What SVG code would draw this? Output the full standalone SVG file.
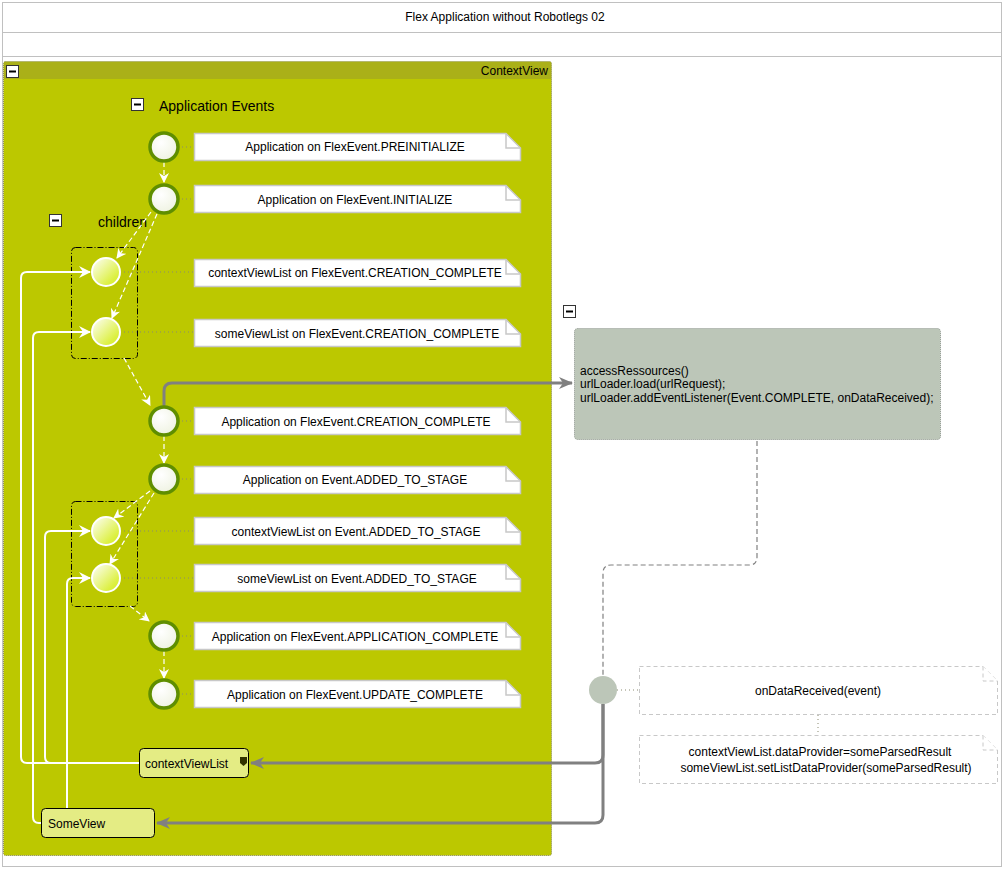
<svg xmlns="http://www.w3.org/2000/svg" width="1005" height="870" viewBox="0 0 1005 870">
<style>
text{font-family:"Liberation Sans",Arial,sans-serif;font-size:12px;fill:#000}
.note{fill:#fff;stroke:#c8c8c8;stroke-width:1.5}
.fold{fill:none;stroke:#c8c8c8;stroke-width:1.5}
.dnote{fill:#fff;stroke:#c8c8c8;stroke-width:1;stroke-dasharray:4,3}
.ev{fill:url(#gEv);stroke:#5f8e00;stroke-width:3.5}
.ch{fill:url(#gCh);stroke:#fff;stroke-width:2}
.dot{stroke:#8a8a70;stroke-width:1;stroke-dasharray:1,3;fill:none}
.wd{stroke:#fff;stroke-width:1.2;stroke-dasharray:5,3;fill:none;marker-end:url(#aw)}
.ws{stroke:#fff;stroke-width:2;fill:none}
.gr{stroke:#808080;stroke-width:3;fill:none}
.grp{fill:none;stroke:#000;stroke-width:1;stroke-dasharray:6,2,1,2}
.tog{fill:#fff;stroke:#333;stroke-width:1}
</style>
<defs>
<radialGradient id="gEv" cx="0.4" cy="0.35" r="0.7"><stop offset="0" stop-color="#ffffff"/><stop offset="1" stop-color="#eef2e0"/></radialGradient>
<linearGradient id="gCh" x1="0" y1="0" x2="1" y2="1"><stop offset="0" stop-color="#ffffff"/><stop offset="0.75" stop-color="#dcf040"/><stop offset="1" stop-color="#d0e820"/></linearGradient>
<marker id="aw" viewBox="0 0 10 10" refX="9" refY="5" markerWidth="10" markerHeight="10" markerUnits="userSpaceOnUse" orient="auto"><path d="M0,0 L10,5 L0,10 L3,5 Z" fill="#fff"/></marker>
<marker id="aws" viewBox="0 0 12 12" refX="11" refY="6" markerWidth="12" markerHeight="12" markerUnits="userSpaceOnUse" orient="auto"><path d="M0,0 L12,6 L0,12 L4,6 Z" fill="#fff"/></marker>
<marker id="ag" viewBox="0 0 14 12" refX="13" refY="6" markerWidth="14" markerHeight="12" markerUnits="userSpaceOnUse" orient="auto"><path d="M0,0 L14,6 L0,12 L4,6 Z" fill="#808080"/></marker>
<g id="toggle"><rect x="0.5" y="0.5" width="12" height="12" class="tog"/><rect x="3" y="5.5" width="7" height="2" fill="#000"/></g>
</defs>
<rect x="0" y="0" width="1005" height="870" fill="#fff"/>
<g id="frame">
<rect x="2.5" y="2.5" width="999" height="864" fill="#fff" stroke="#c0c0c0"/>
<line x1="2.5" y1="32.5" x2="1001.5" y2="32.5" stroke="#c0c0c0"/>
<line x1="2.5" y1="56.5" x2="1001.5" y2="56.5" stroke="#c0c0c0"/>
<text x="505" y="21" text-anchor="middle">Flex Application without Robotlegs 02</text>
</g>
<g id="contextView">
<rect x="3.5" y="61.5" width="548" height="794" rx="2" fill="#bcc800" stroke="#8a8a60" stroke-dasharray="1,1"/>
<rect x="4" y="62" width="547" height="17" fill="#aab018"/>
<use href="#toggle" x="6" y="65"/>
<text x="548" y="75" text-anchor="end">ContextView</text>
<use href="#toggle" x="131" y="98"/>
<text x="159" y="111" style="font-size:14px">Application Events</text>
<use href="#toggle" x="49" y="214"/>
<text x="98" y="227" style="font-size:14px">children</text>
</g>
<g id="groups">
<rect id="group1" x="71.5" y="247.5" width="66" height="111" rx="4" class="grp"/>
<rect id="group2" x="71.5" y="501.5" width="66" height="105" rx="4" class="grp"/>
</g>
<g id="connectors">
<path class="dot" d="M178,147 H194 M178,199 H194 M120,272 H194 M120,332 H194 M178,421 H194 M178,479 H194 M120,531 H194 M120,578 H194 M178,636 H194 M178,694 H194"/>
<path class="dot" d="M617,690 H639 M818,715 V735"/>
<path class="wd" d="M164,162 V182"/>
<path class="wd" d="M151,212 L117,258"/>
<path class="wd" d="M157,214 L112,318"/>
<path class="wd" d="M124,358 L150,405"/>
<path class="wd" d="M164,436 V463"/>
<path class="wd" d="M150,491 L114,518"/>
<path class="wd" d="M154,493 L110,564"/>
<path class="wd" d="M130,606 L149,621"/>
<path class="wd" d="M164,651 V678"/>
<path class="ws" d="M139,763 H27 Q21,763 21,757 V278 Q21,272 27,272 H90" marker-end="url(#aws)"/>
<path class="ws" d="M41,823 H39 Q33,823 33,817 V338 Q33,332 39,332 H90" marker-end="url(#aws)"/>
<path class="ws" d="M139,763 H51 Q45,763 45,757 V537 Q45,531 51,531 H90" marker-end="url(#aws)"/>
<path class="ws" d="M67,808 V584 Q67,578 73,578 H90" marker-end="url(#aws)"/>
<path class="gr" d="M164,407 V391 Q164,383 172,383 H572" marker-end="url(#ag)"/>
<path d="M757,441 V557 Q757,565 749,565 H611 Q603,565 603,573 V676" fill="none" stroke="#808080" stroke-width="1.2" stroke-dasharray="5,3"/>
<path class="gr" d="M603,704 V755 Q603,763 595,763 H251" marker-end="url(#ag)"/>
<path class="gr" d="M603,704 V815 Q603,823 595,823 H157" marker-end="url(#ag)"/>
</g>
<g id="ev1"><circle cx="164" cy="147" r="14" class="ev"/></g>
<g id="ev2"><circle cx="164" cy="199" r="14" class="ev"/></g>
<g id="ch1"><circle cx="106" cy="272" r="14" class="ch"/></g>
<g id="ch2"><circle cx="106" cy="332" r="14" class="ch"/></g>
<g id="ev3"><circle cx="164" cy="421" r="14" class="ev"/></g>
<g id="ev4"><circle cx="164" cy="479" r="14" class="ev"/></g>
<g id="ch3"><circle cx="106" cy="531" r="14" class="ch"/></g>
<g id="ch4"><circle cx="106" cy="578" r="14" class="ch"/></g>
<g id="ev5"><circle cx="164" cy="636" r="14" class="ev"/></g>
<g id="ev6"><circle cx="164" cy="694" r="14" class="ev"/></g>
<g id="n1"><path class="note" d="M194.5,133.5 H506 L520.5,148 V160.5 H194.5 Z"/><path class="fold" d="M506,133.5 V148 H520.5"/><text x="355" y="151" text-anchor="middle">Application on FlexEvent.PREINITIALIZE</text></g>
<g id="n2"><path class="note" d="M194.5,185.5 H506 L520.5,200 V212.5 H194.5 Z"/><path class="fold" d="M506,185.5 V200 H520.5"/><text x="355" y="204" text-anchor="middle">Application on FlexEvent.INITIALIZE</text></g>
<g id="n3"><path class="note" d="M194.5,259.5 H506 L520.5,274 V286.5 H194.5 Z"/><path class="fold" d="M506,259.5 V274 H520.5"/><text x="355" y="277" text-anchor="middle">contextViewList on FlexEvent.CREATION_COMPLETE</text></g>
<g id="n4"><path class="note" d="M194.5,319.5 H506 L520.5,334 V346.5 H194.5 Z"/><path class="fold" d="M506,319.5 V334 H520.5"/><text x="357" y="338" text-anchor="middle">someViewList on FlexEvent.CREATION_COMPLETE</text></g>
<g id="n5"><path class="note" d="M194.5,407.5 H506 L520.5,422 V434.5 H194.5 Z"/><path class="fold" d="M506,407.5 V422 H520.5"/><text x="356" y="426" text-anchor="middle">Application on FlexEvent.CREATION_COMPLETE</text></g>
<g id="n6"><path class="note" d="M194.5,466.5 H506 L520.5,481 V493.5 H194.5 Z"/><path class="fold" d="M506,466.5 V481 H520.5"/><text x="355" y="484" text-anchor="middle">Application on Event.ADDED_TO_STAGE</text></g>
<g id="n7"><path class="note" d="M194.5,517.5 H506 L520.5,532 V544.5 H194.5 Z"/><path class="fold" d="M506,517.5 V532 H520.5"/><text x="356" y="536" text-anchor="middle">contextViewList on Event.ADDED_TO_STAGE</text></g>
<g id="n8"><path class="note" d="M194.5,564.5 H506 L520.5,579 V591.5 H194.5 Z"/><path class="fold" d="M506,564.5 V579 H520.5"/><text x="357" y="583" text-anchor="middle">someViewList on Event.ADDED_TO_STAGE</text></g>
<g id="n9"><path class="note" d="M194.5,622.5 H506 L520.5,637 V649.5 H194.5 Z"/><path class="fold" d="M506,622.5 V637 H520.5"/><text x="355" y="641" text-anchor="middle">Application on FlexEvent.APPLICATION_COMPLETE</text></g>
<g id="n10"><path class="note" d="M194.5,680.5 H506 L520.5,695 V707.5 H194.5 Z"/><path class="fold" d="M506,680.5 V695 H520.5"/><text x="355" y="699" text-anchor="middle">Application on FlexEvent.UPDATE_COMPLETE</text></g>
<g id="contextViewList">
<rect x="139.5" y="748.5" width="109" height="29" rx="4" fill="#e4ec84" stroke="#000"/>
<text x="145" y="768">contextViewList</text>
<path d="M240,757 H247 V763 L243.5,766 L240,763 Z" fill="#333300"/>
</g>
<g id="someView">
<rect x="41.5" y="808.5" width="113" height="29" rx="4" fill="#e4ec84" stroke="#000"/>
<text x="48" y="828">SomeView</text>
</g>
<g id="accessRessources">
<use href="#toggle" x="563" y="305"/>
<rect x="574.5" y="328.5" width="366" height="111" rx="3" fill="#bcc6b8" stroke="#909890" stroke-dasharray="1,1"/>
<text x="580" y="375">accessRessources()</text>
<text x="580" y="388">urlLoader.load(urlRequest);</text>
<text x="580" y="402">urlLoader.addEventListener(Event.COMPLETE, onDataReceived);</text>
</g>
<g id="dataCircle"><circle cx="603" cy="690" r="14" fill="#bcc6b8"/></g>
<g id="onDataReceived">
<path class="dnote" d="M639.5,666.5 H983 L997.5,681 V714.5 H639.5 Z"/><path class="dnote" d="M983,666.5 V681 H997.5" fill="none"/>
<text x="818" y="695" text-anchor="middle">onDataReceived(event)</text>
</g>
<g id="dataNote">
<path class="dnote" d="M639.5,735.5 H983 L997.5,750 V783.5 H639.5 Z"/><path class="dnote" d="M983,735.5 V750 H997.5" fill="none"/>
<text x="820" y="756" text-anchor="middle">contextViewList.dataProvider=someParsedResult</text>
<text x="826" y="772" text-anchor="middle">someViewList.setListDataProvider(someParsedResult)</text>
</g>
</svg>
